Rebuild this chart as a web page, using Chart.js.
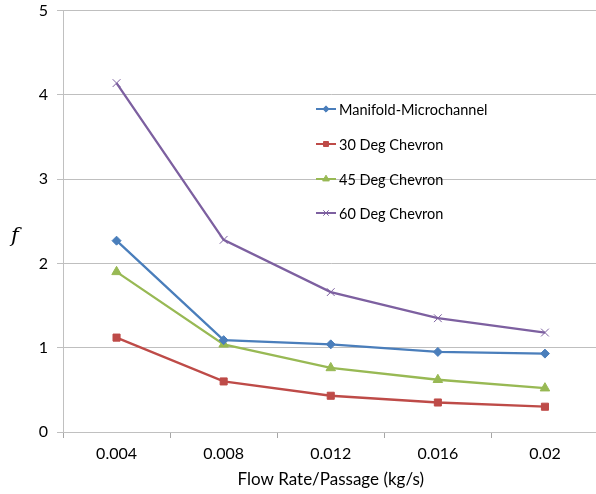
<!DOCTYPE html>
<html><head><meta charset="utf-8">
<script src="https://cdn.jsdelivr.net/npm/chart.js@4"></script>
<style>html,body{margin:0;padding:0;background:#fff;overflow:hidden}#wrap{width:596px;height:494px;position:relative;overflow:hidden}#c{position:absolute;left:0;top:-8px}</style>
</head><body><div id="wrap"><canvas id="c" width="605" height="502"></canvas></div>
<script>
const categories = ['0.004','0.008','0.012','0.016','0.02'];
const manifold = [2.27, 1.09, 1.04, 0.95, 0.93];
const chevron30 = [1.12, 0.60, 0.43, 0.35, 0.30];
const chevron45 = [1.90, 1.04, 0.76, 0.62, 0.52];
const chevron60 = [4.14, 2.28, 1.66, 1.35, 1.18];
const yTicks = [0, 1, 2, 3, 4, 5];
const seriesNames = ['Manifold-Microchannel','30 Deg Chevron','45 Deg Chevron','60 Deg Chevron'];
const yTitle = 'f';

const FONT = 'Lato, "Open Sans", sans-serif';
const colors = ['#4a7ebb','#be4b48','#98b954','#7d60a0'];
const shapes = ['rectRot','rect','triangle','crossRot'];
const radii = [4.5, 5, 5.5, 5.5];
const values = [manifold, chevron30, chevron45, chevron60];
const OFF = 8;

const legendPlugin = {
  id: 'inLegend',
  afterDraw(chart) {
    const ctx = chart.ctx;
    const x0 = 316, ys = [109 + OFF, 144 + OFF, 179 + OFF, 213 + OFF];
    chart.data.datasets.forEach((ds, i) => {
      const y = ys[i];
      ctx.save();
      ctx.strokeStyle = ds.borderColor; ctx.lineWidth = 2;
      ctx.beginPath(); ctx.moveTo(x0, y); ctx.lineTo(x0 + 20, y); ctx.stroke();
      ctx.fillStyle = ds.borderColor; ctx.strokeStyle = ds.borderColor; ctx.lineWidth = 1;
      Chart.helpers.drawPoint(ctx, {pointStyle: ds.pointStyle, radius: ds.pointRadius * 0.7, borderWidth: 1, rotation: 0}, x0 + 10, y);
      ctx.fillStyle = '#000'; ctx.font = '14.5px ' + FONT; ctx.textBaseline = 'middle';
      ctx.fillText(ds.label, x0 + 23, y + 1);
      ctx.restore();
    });
    ctx.save();
    ctx.fillStyle = '#000'; ctx.font = 'italic 21px "DejaVu Serif", "Liberation Serif", serif';
    ctx.textAlign = 'center'; ctx.textBaseline = 'middle';
    ctx.fillText(yTitle, 15, 237 + OFF);
    ctx.restore();
  }
};

new Chart(document.getElementById('c'), {
  type: 'line',
  data: {
    labels: categories,
    datasets: values.map((v, i) => ({
      label: seriesNames[i], data: v,
      borderColor: colors[i], backgroundColor: colors[i],
      borderWidth: 2.3, pointStyle: shapes[i], pointRadius: radii[i],
      pointBorderWidth: 1, tension: 0
    }))
  },
  options: {
    responsive: false, animation: false,
    layout: {padding: {top: 0, right: 0, left: 0, bottom: 0}},
    plugins: {legend: {display: false}, tooltip: {enabled: false}},
    scales: {
      x: {
        offset: true,
        grid: {display: true, drawOnChartArea: false, offset: true, color: '#a6a6a6', tickLength: 6},
        border: {color: '#c0c0c0'},
        ticks: {color: '#000', font: {family: FONT, size: 16}, padding: 6},
        title: {display: true, text: 'Flow Rate/Passage (kg/s)', color: '#000', font: {family: FONT, size: 17}, padding: {top: 10}},
        afterFit(s) { s.height = 62; }
      },
      y: {
        min: 0, max: 5,
        afterBuildTicks(s) { s.ticks = yTicks.map(v => ({value: v})); },
        grid: {color: '#bfbfbf', tickLength: 6},
        border: {color: '#c0c0c0'},
        ticks: {color: '#000', font: {family: FONT, size: 16}, padding: 9},
        title: {display: false},
        afterFit(s) { s.width = 63; }
      }
    }
  },
  plugins: [legendPlugin]
});
</script></body></html>
